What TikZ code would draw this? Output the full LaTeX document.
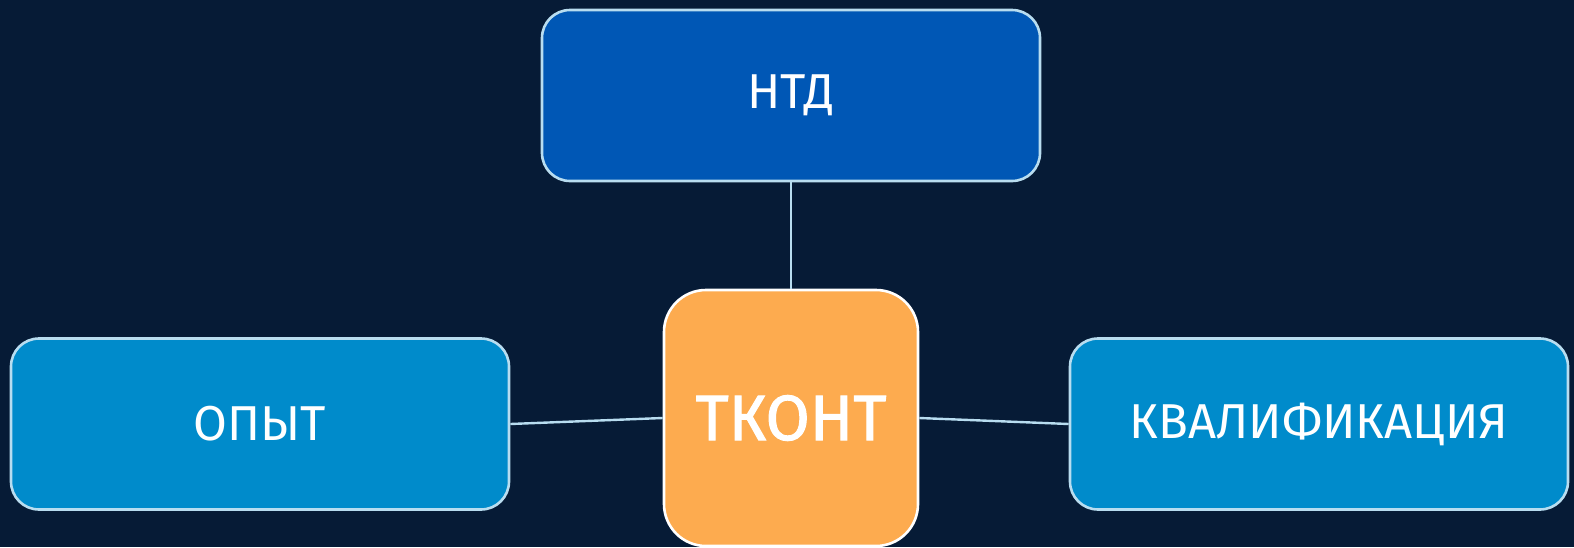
\documentclass[tikz,border=0pt]{standalone}
\usepackage{fontspec}
\setmainfont{Fira Sans}
\newfontfamily\midfont[FakeBold=1.6]{Fira Sans}
\definecolor{bg}{HTML}{061B36}
\definecolor{ntdfill}{HTML}{0057B5}
\definecolor{sidefill}{HTML}{008BCB}
\definecolor{centerfill}{HTML}{FDAB4F}
\definecolor{edgeblue}{HTML}{B8DDF0}
\begin{document}
\begin{tikzpicture}[x=1pt,y=-1pt,
  box/.style={draw=edgeblue,line width=2.6pt,rounded corners=28pt,
    minimum width=498pt,minimum height=171pt,inner sep=0pt,
    text=white,font=\fontsize{49}{52}\selectfont},
  centerbox/.style={draw=white,line width=2.6pt,rounded corners=42pt,fill=centerfill,
    minimum width=254pt,minimum height=256pt,inner sep=0pt,
    text=white,font=\midfont\fontsize{64}{66}\selectfont},
  link/.style={draw=edgeblue,line width=2.4pt}]
\fill[bg] (0,0) rectangle (1574,547);
\useasboundingbox (0,0) rectangle (1574,547);
\node[box,fill=ntdfill] (ntd) at (791,95.5) {НТД};
\node[box,fill=sidefill] (opyt) at (260,424) {ОПЫТ};
\node[box,fill=sidefill] (kval) at (1319,424) {КВАЛИФИКАЦИЯ};
\node[centerbox] (tkont) at (791,418) {ТКОНТ};
\draw[link] (ntd.south) -- (tkont.north);
\draw[link] (opyt.east) -- (tkont.west);
\draw[link] (tkont.east) -- (kval.west);
\end{tikzpicture}
\end{document}
